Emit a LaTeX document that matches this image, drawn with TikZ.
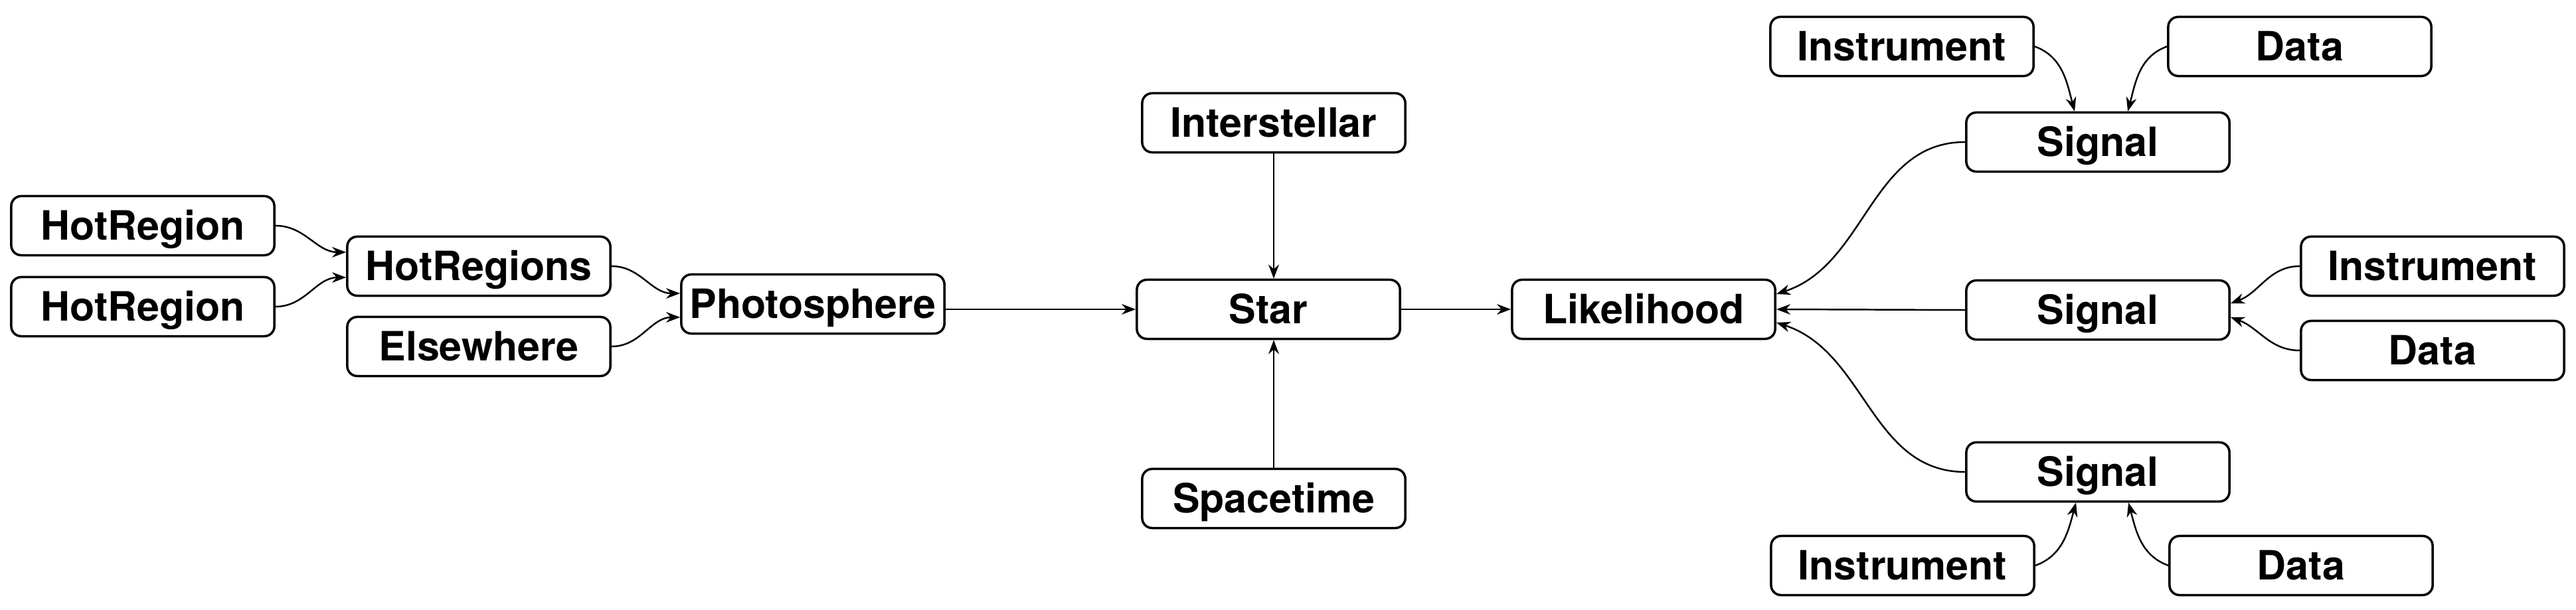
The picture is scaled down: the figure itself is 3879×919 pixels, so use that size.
\documentclass[tikz,border=0pt]{standalone}
\usepackage{fontspec}
\setmainfont{TeX Gyre Heros}
\usepackage{tikz}
\usetikzlibrary{arrows.meta,positioning}
\tikzstyle{arrow} = [line width=0.7pt,-{Stealth[length=6pt,width=4.5pt]}]
\tikzstyle{classbox} = [rectangle, rounded corners=0.15cm, minimum width=3.96cm, minimum height=0.89cm, text height=0.43cm, text depth=0cm, text centered, draw=black, line width=1pt, font=\fontsize{17.3}{20}\selectfont\bfseries]

\begin{document}
\begin{tikzpicture}[x=0.01cm,y=-0.01cm]
\useasboundingbox (0,0) rectangle (3879,919);

% Photosphere
\node[classbox] (hotregion1) at (215,340) {HotRegion};
\node[classbox] (hotregion2) at (215,462) {HotRegion};
\node[classbox] (hotregions) at (721,401) {HotRegions};
\node[classbox] (elsewhere) at (721,522) {Elsewhere};
\node[classbox] (photosphere) at (1224,458) {Photosphere};

% Star
\node[classbox] (interstellar) at (1918,185) {Interstellar};
\node[classbox] (star) at (1910,466) {Star};
\node[classbox] (spacetime) at (1918,751) {Spacetime};

% Likelihood
\node[classbox] (likelihood) at (2475,466) {Likelihood};

% Signals
\node[classbox] (signal1) at (3159,214) {Signal};
\node[classbox] (signal2) at (3159,467) {Signal};
\node[classbox] (signal3) at (3159,711) {Signal};

% Instruments and data
\node[classbox] (instrument1) at (2864,70) {Instrument};
\node[classbox] (data1) at (3463,70) {Data};
\node[classbox] (instrument2) at (3663,401) {Instrument};
\node[classbox] (data2) at (3663,528) {Data};
\node[classbox] (instrument3) at (2865,852) {Instrument};
\node[classbox] (data3) at (3465,852) {Data};

\draw[arrow] (hotregion1.east) to[out=0,in=180] ([yshift=0.21cm]hotregions.west);
\draw[arrow] (hotregion2.east) to[out=0,in=180] ([yshift=-0.17cm]hotregions.west);
\draw[arrow] (hotregions.east) to[out=0,in=180] ([yshift=0.16cm]photosphere.west);
\draw[arrow] (elsewhere.east) to[out=0,in=180] ([yshift=-0.2cm]photosphere.west);
\draw[arrow] (photosphere.east |- star.west) -- (star.west);
\draw[arrow] (interstellar.south) -- (interstellar.south |- star.north);
\draw[arrow] (spacetime.north) -- (spacetime.north |- star.south);
\draw[arrow] (star.east) -- (likelihood.west);

\draw[arrow] (signal1.west) to[out=180,in=18] ([yshift=0.23cm]likelihood.east);
\draw[arrow] (signal2.west) -- (likelihood.east);
\draw[arrow] (signal3.west) to[out=180,in=-18] ([yshift=-0.2cm]likelihood.east);

\draw[arrow] (instrument1.east) to[out=-20,in=105] ([xshift=-0.35cm]signal1.north);
\draw[arrow] (data1.west) to[out=200,in=75] ([xshift=0.45cm]signal1.north);
\draw[arrow] (instrument2.west) to[out=180,in=20] ([yshift=0.1cm]signal2.east);
\draw[arrow] (data2.west) to[out=180,in=-20] ([yshift=-0.11cm]signal2.east);
\draw[arrow] (instrument3.east) to[out=20,in=-105] ([xshift=-0.33cm]signal3.south);
\draw[arrow] (data3.west) to[out=160,in=-75] ([xshift=0.46cm]signal3.south);
\end{tikzpicture}
\end{document}
